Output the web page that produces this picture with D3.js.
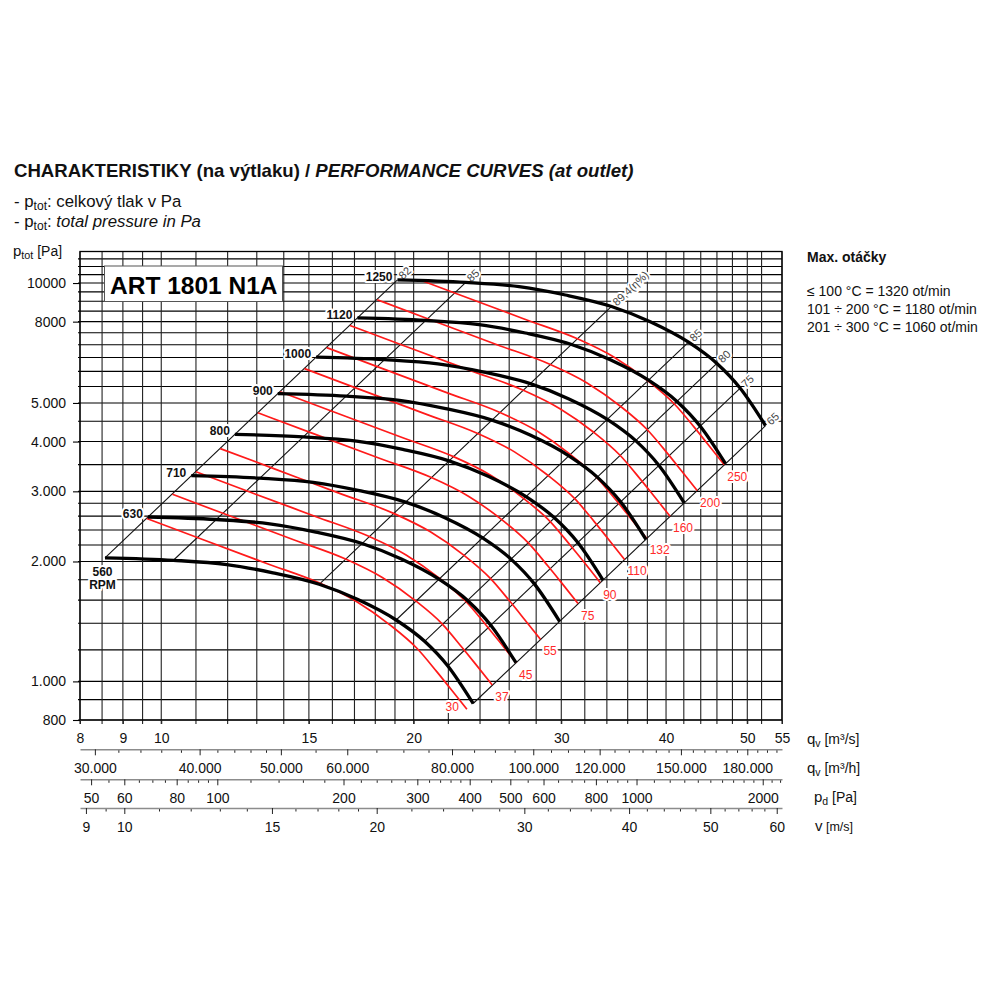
<!DOCTYPE html>
<html>
<head>
<meta charset="utf-8">
<script src="https://cdn.jsdelivr.net/npm/d3@7"></script>
<style>
  body { margin: 0; background: #fff; }
  text { font-family: "Liberation Sans", Arial, Helvetica, sans-serif; white-space: pre; }
</style>
</head>
<body>
<div id="chart"></div>
<script>
// ---------- Data ----------
// fan speed curves (q in m3/s, p_tot in Pa)
var rpm = [560, 630, 710, 800, 900, 1000, 1120, 1250];
var rpmQ = [
  [8.569, 10.34, 11.97, 13.59, 15.43, 17.16, 19.06, 20.61, 21.97, 23.55],
  [9.640, 11.63, 13.47, 15.29, 17.36, 19.31, 21.44, 23.19, 24.72, 26.49],
  [10.86, 13.11, 15.18, 17.23, 19.56, 21.76, 24.17, 26.13, 27.86, 29.86],
  [12.24, 14.77, 17.10, 19.41, 22.04, 24.51, 27.23, 29.44, 31.39, 33.64],
  [13.77, 16.62, 19.24, 21.84, 24.80, 27.58, 30.63, 33.12, 35.31, 37.85],
  [15.30, 18.46, 21.38, 24.27, 27.55, 30.64, 34.04, 36.80, 39.23, 42.05],
  [17.14, 20.68, 23.94, 27.18, 30.86, 34.32, 38.12, 41.22, 43.94, 47.10],
  [19.13, 23.08, 26.72, 30.34, 34.44, 38.30, 42.55, 46.00, 49.04, 52.57]
];
var rpmP = [
  [2043, 2014, 1965, 1873, 1753, 1605, 1426, 1261, 1093, 880],
  [2586, 2549, 2487, 2371, 2219, 2031, 1805, 1596, 1383, 1114],
  [3284, 3237, 3159, 3011, 2818, 2580, 2292, 2027, 1757, 1415],
  [4169, 4110, 4010, 3822, 3578, 3276, 2910, 2574, 2231, 1796],
  [5277, 5202, 5075, 4838, 4528, 4146, 3683, 3257, 2823, 2273],
  [6515, 6422, 6266, 5973, 5590, 5118, 4547, 4021, 3485, 2806],
  [8172, 8056, 7860, 7492, 7012, 6420, 5704, 5044, 4372, 3520],
  [10179, 10035, 9791, 9332, 8734, 7997, 7105, 6283, 5446, 4385]
];

// motor power curves (kW)
var powerKW = [30, 37, 45, 55, 75, 90, 110, 132, 160, 200, 250];
var powerQ = [
  [9.609, 11.12, 13.36, 15.47, 17.11, 18.75, 20.18, 21.31, 22.11, 23.15],
  [10.31, 11.93, 14.33, 16.59, 18.35, 20.11, 21.64, 22.85, 23.71, 24.82],
  [11.00, 12.73, 15.30, 17.71, 19.59, 21.46, 23.09, 24.39, 25.31, 26.50],
  [11.76, 13.62, 16.35, 18.93, 20.94, 22.95, 24.69, 26.08, 27.06, 28.33],
  [13.04, 15.10, 18.14, 21.00, 23.22, 25.45, 27.38, 28.92, 30.01, 31.41],
  [13.86, 16.04, 19.27, 22.31, 24.68, 27.04, 29.10, 30.73, 31.89, 33.38],
  [14.82, 17.15, 20.61, 23.85, 26.38, 28.91, 31.11, 32.86, 34.09, 35.69],
  [15.75, 18.23, 21.90, 25.35, 28.04, 30.72, 33.06, 34.92, 36.23, 37.93],
  [16.79, 19.44, 23.35, 27.03, 29.89, 32.76, 35.25, 37.23, 38.63, 40.44],
  [18.09, 20.94, 25.15, 29.11, 32.20, 35.29, 37.97, 40.11, 41.61, 43.56],
  [20.47, 22.55, 27.09, 31.36, 34.69, 38.01, 40.90, 43.21, 44.82, 46.93]
];
var powerP = [
  [2564, 2284, 1977, 1763, 1585, 1385, 1211, 1058, 961, 851],
  [2949, 2627, 2274, 2028, 1823, 1593, 1393, 1216, 1105, 979],
  [3360, 2993, 2591, 2310, 2077, 1815, 1587, 1386, 1259, 1115],
  [3841, 3421, 2961, 2641, 2374, 2075, 1814, 1584, 1439, 1275],
  [4723, 4207, 3642, 3248, 2920, 2551, 2230, 1948, 1770, 1568],
  [5333, 4751, 4112, 3667, 3297, 2881, 2519, 2200, 1999, 1770],
  [6097, 5431, 4701, 4192, 3769, 3293, 2879, 2515, 2285, 2024],
  [6885, 6133, 5309, 4734, 4256, 3719, 3251, 2840, 2580, 2285],
  [7827, 6972, 6035, 5382, 4838, 4228, 3696, 3229, 2933, 2598],
  [9082, 8090, 7003, 6245, 5614, 4906, 4289, 3747, 3404, 3014],
  [10137, 9388, 8126, 7247, 6515, 5693, 4977, 4348, 3950, 3498]
];

// efficiency lines (from 560 RPM curve up to 1250 RPM curve)
var effLabels = ["82", "85", "89,4(η%)", "85", "80", "75", "65"];
var effLowQ = [8.569, 10.34, 15.43, 19.06, 20.61, 21.97, 23.55];
var effLowP = [2043, 2014, 1753, 1426, 1261, 1093, 880];
var effHighQ = [19.13, 23.08, 34.44, 42.55, 46.00, 49.04, 52.57];
var effHighP = [10179, 10035, 8734, 7105, 6283, 5446, 4385];

// grid and axis ticks
var qGrid = [8, 8.5, 9, 9.5, 10, 11, 12, 13, 14, 15, 16, 17, 18, 19, 20, 22, 24, 26, 28, 30,
             32, 34, 36, 38, 40, 42, 44, 46, 48, 50, 52, 55];
var qTicks = [8, 9, 10, 15, 20, 30, 40, 50, 55];
var pGrid = [800, 900, 1000, 1200, 1400, 1600, 1800, 2000, 2200, 2400, 2600, 2800, 3000, 3500,
             4000, 4500, 5000, 5500, 6000, 6500, 7000, 7500, 8000, 8500, 9000, 9500, 10000,
             10500, 11000, 11500];
var pTicks = [800, 1000, 2000, 3000, 4000, 5000, 8000, 10000];
var pTickLabels = ["800", "1.000", "2.000", "3.000", "4.000", "5.000", "8000", "10000"];

var qhTicks = [30000, 40000, 50000, 60000, 80000, 100000, 120000, 150000, 180000];
var qhMinor = [32000, 34000, 36000, 38000, 42000, 44000, 46000, 48000, 55000, 65000, 70000,
               75000, 85000, 90000, 95000, 105000, 110000, 115000, 125000, 130000, 135000,
               140000, 145000, 155000, 160000, 165000, 170000, 175000, 185000, 190000, 195000];
var pdTicks = [50, 60, 80, 100, 200, 300, 400, 500, 600, 800, 1000, 2000];
var pdMinor = [55, 65, 70, 75, 85, 90, 95, 120, 140, 160, 180, 220, 240, 260, 280, 320, 340,
               360, 380, 450, 550, 650, 700, 750, 850, 900, 950, 1100, 1200, 1300, 1400, 1500,
               1600, 1700, 1800, 1900, 2100, 2200];
var vTicks = [9, 10, 15, 20, 30, 40, 50, 60];
var vMinor = [9.5, 11, 12, 13, 14, 16, 17, 18, 19, 22, 24, 26, 28, 32, 34, 36, 38, 42, 44, 46,
              48, 52, 54, 56, 58];

// outlet constants used by the secondary axes
var airDensity = 1.2;   // kg/m3
var ductArea = 0.9035;  // m2

var FONT = '"Liberation Sans", Arial, Helvetica, sans-serif';

// ---------- SVG ----------
var svg = d3.select("#chart")
    .append("svg")
    .attr("width", 1000)
    .attr("height", 1000);

svg.append("rect").attr("width", 1000).attr("height", 1000).attr("fill", "#fff");

var plot = { left: 80, right: 782, top: 251.5, bottom: 720 };

var x = d3.scaleLog().domain([8, 55]).range([plot.left, plot.right]);
var y = d3.scaleLog().domain([800, 12000]).range([plot.bottom, plot.top]);

// ---------- Titles ----------
var title = svg.append("text")
    .attr("x", 14).attr("y", 177)
    .attr("font-size", 18.6).attr("font-weight", "bold").attr("fill", "#111");
title.append("tspan").text("CHARAKTERISTIKY (na výtlaku) / ");
title.append("tspan").attr("font-style", "italic").text("PERFORMANCE CURVES (at outlet)");

function ptotText(xPos, yPos, size, rest, italic) {
  var t = svg.append("text").attr("x", xPos).attr("y", yPos)
      .attr("font-size", size).attr("fill", "#111");
  t.append("tspan").text(rest === null ? "p" : "- p");
  t.append("tspan").attr("font-size", size * 0.72).attr("dy", 3).text("tot");
  if (rest === null) {
    t.append("tspan").attr("dy", -3).attr("font-size", size * 0.93).text(" [Pa]");
  } else {
    t.append("tspan").attr("dy", -3).text(": ");
    t.append("tspan").attr("font-style", italic ? "italic" : "normal").text(rest);
  }
}
ptotText(14, 206.5, 16.8, "celkový tlak v Pa", false);
ptotText(14, 227, 16.8, "total pressure in Pa", true);
ptotText(13, 256, 15, null, false);

// right legend
svg.append("text").attr("x", 807).attr("y", 262)
    .attr("font-size", 14).attr("font-weight", "bold").attr("fill", "#111")
    .text("Max. otáčky");
var maxLines = ["≤ 100 °C = 1320 ot/min", "101 ÷ 200 °C = 1180 ot/min", "201 ÷ 300 °C = 1060 ot/min"];
svg.selectAll(".maxline")
    .data(maxLines)
    .enter()
    .append("text")
    .attr("x", 807)
    .attr("y", (d, i) => 296 + i * 18)
    .attr("font-size", 14).attr("fill", "#111")
    .text(d => d);

// ---------- Grid ----------
var gridG = svg.append("g");
gridG.selectAll(".hgrid")
    .data(pGrid)
    .enter()
    .append("line")
    .attr("x1", 78).attr("x2", plot.right)
    .attr("y1", d => y(d)).attr("y2", d => y(d))
    .attr("stroke", "#000").attr("stroke-width", 1.1);

gridG.selectAll(".vgrid")
    .data(qGrid)
    .enter()
    .append("line")
    .attr("x1", d => x(d)).attr("x2", d => x(d))
    .attr("y1", plot.top).attr("y2", plot.bottom + 4)
    .attr("stroke", "#222").attr("stroke-width", 1.1);

// frame
svg.append("rect")
    .attr("x", plot.left).attr("y", plot.top)
    .attr("width", plot.right - plot.left).attr("height", plot.bottom - plot.top)
    .attr("fill", "none").attr("stroke", "#000").attr("stroke-width", 1.3);

// y axis (labels)
svg.append("g")
    .attr("transform", `translate(${plot.left}, 0)`)
    .call(d3.axisLeft(y).tickValues(pTicks).tickFormat((d, i) => pTickLabels[i])
        .tickSize(7).tickPadding(7))
    .call(g => g.select(".domain").remove())
    .attr("font-size", 14).attr("font-family", FONT)
    .call(g => g.selectAll("line").attr("stroke", "#000").attr("stroke-width", 1.1))
    .call(g => g.selectAll("text").attr("fill", "#111"));

// product box
svg.append("rect")
    .attr("x", 104.5).attr("y", 266).attr("width", 178).attr("height", 35.5)
    .attr("fill", "#fff").attr("stroke", "#555").attr("stroke-width", 1);
svg.append("text")
    .attr("x", 110).attr("y", 293.5)
    .attr("font-size", 24.5).attr("font-weight", "bold").attr("fill", "#000")
    .text("ART 1801 N1A");

// ---------- Curves ----------
var line = d3.line()
    .x(d => x(d[0]))
    .y(d => y(d[1]))
    .curve(d3.curveMonotoneX);

// efficiency lines
var effG = svg.append("g");
effG.selectAll(".eff")
    .data(effLabels)
    .enter()
    .append("line")
    .attr("x1", (d, i) => x(effLowQ[i])).attr("y1", (d, i) => y(effLowP[i]))
    .attr("x2", (d, i) => x(effHighQ[i])).attr("y2", (d, i) => y(effHighP[i]))
    .attr("stroke", "#111").attr("stroke-width", 1.1);

// motor power curves
svg.append("g").selectAll(".power")
    .data(powerKW)
    .enter()
    .append("path")
    .attr("d", (d, i) => line(d3.zip(powerQ[i], powerP[i])))
    .attr("fill", "none")
    .attr("stroke", "#ff1a1a")
    .attr("stroke-width", 1.7);

// speed curves
svg.append("g").selectAll(".rpm")
    .data(rpm)
    .enter()
    .append("path")
    .attr("d", (d, i) => line(d3.zip(rpmQ[i], rpmP[i])))
    .attr("fill", "none")
    .attr("stroke", "#000")
    .attr("stroke-width", 3.3);

// ---------- Curve labels ----------
function halo(sel) {
  sel.attr("stroke", "#fff").attr("stroke-width", 4).attr("paint-order", "stroke")
     .attr("stroke-linejoin", "round");
}

// efficiency labels along the lines
effG.selectAll(".efflab")
    .data(effLabels)
    .enter()
    .append("text")
    .attr("transform", (d, i) => `translate(${x(effHighQ[i])}, ${y(effHighP[i])}) rotate(-43.5)`)
    .attr("x", 4)
    .attr("dy", "0.35em")
    .attr("font-size", 11)
    .attr("fill", "#444")
    .call(halo)
    .text(d => d);

// rpm labels
var rpmLab = svg.append("g").attr("font-weight", "bold").attr("font-size", 12).attr("fill", "#111");
rpmLab.selectAll(".rpmlab")
    .data(rpm.slice(1))
    .enter()
    .append("text")
    .attr("x", (d, i) => x(rpmQ[i + 1][0]) - 5)
    .attr("y", (d, i) => y(rpmP[i + 1][0]) + 1)
    .attr("text-anchor", "end")
    .call(halo)
    .text(d => d);
rpmLab.append("text")
    .attr("x", x(rpmQ[0][0]) - 2.5).attr("y", y(rpmP[0][0]) + 18)
    .attr("text-anchor", "middle").call(halo).text(rpm[0]);
rpmLab.append("text")
    .attr("x", x(rpmQ[0][0]) - 2.5).attr("y", y(rpmP[0][0]) + 31)
    .attr("text-anchor", "middle").call(halo).text("RPM");

// power labels at curve ends
svg.append("g").selectAll(".powlab")
    .data(powerKW)
    .enter()
    .append("text")
    .attr("x", (d, i) => x(powerQ[i][9]) + (i === 0 ? -8 : 3))
    .attr("y", (d, i) => y(powerP[i][9]) + (i === 0 ? 2 : 16))
    .attr("text-anchor", (d, i) => i === 0 ? "end" : "start")
    .attr("font-size", 12)
    .attr("fill", "#ff2a2a")
    .call(halo)
    .text(d => d);

// ---------- Bottom axes ----------
// qv m3/s on the plot edge
svg.append("g")
    .attr("transform", `translate(0, ${plot.bottom})`)
    .call(d3.axisBottom(x).tickValues(qTicks).tickFormat(d3.format("")).tickSize(4).tickSizeOuter(0))
    .call(g => g.select(".domain").remove())
    .attr("font-size", 14).attr("font-family", FONT)
    .call(g => g.selectAll("line").attr("stroke", "#222"))
    .call(g => g.selectAll("text").attr("y", 23.3).attr("dy", null).attr("fill", "#111"));

var dotLocale = d3.formatLocale({ decimal: ",", thousands: ".", grouping: [3], currency: ["", ""] });

var xh = d3.scaleLog().domain([8 * 3600, 55 * 3600]).range([plot.left, plot.right]);
var xv = d3.scaleLog().domain([8 / ductArea, 55 / ductArea]).range([plot.left, plot.right]);
var xpd = d3.scaleLog()
    .domain([0.5 * airDensity * Math.pow(8 / ductArea, 2), 0.5 * airDensity * Math.pow(55 / ductArea, 2)])
    .range([plot.left, plot.right]);

function scaleAxis(scale, yPos, major, minor, fmt) {
  var g = svg.append("g").attr("transform", `translate(0, ${yPos})`);
  g.append("g")
      .call(d3.axisBottom(scale).tickValues(minor).tickFormat("").tickSize(3.5).tickSizeOuter(0))
      .call(a => a.select(".domain").remove())
      .call(a => a.selectAll("line").attr("stroke", "#222"));
  g.append("g")
      .call(d3.axisBottom(scale).tickValues(major).tickFormat(fmt).tickSize(6).tickSizeOuter(0))
      .attr("font-size", 14).attr("font-family", FONT)
      .call(a => a.select(".domain").attr("stroke", "#8c8c8c").attr("stroke-width", 1.6))
      .call(a => a.selectAll("line").attr("stroke", "#222"))
      .call(a => a.selectAll("text").attr("y", 23.5).attr("dy", null).attr("fill", "#111"));
}
scaleAxis(xh, 749.3, qhTicks, qhMinor, dotLocale.format(","));
scaleAxis(xpd, 779.3, pdTicks, pdMinor, d3.format(""));
scaleAxis(xv, 808, vTicks, vMinor, d3.format(""));

// unit labels
function unitLabel(xPos, yPos, main, sub, unit, unitSize) {
  var t = svg.append("text").attr("x", xPos).attr("y", yPos)
      .attr("font-size", 15).attr("fill", "#111");
  t.append("tspan").text(main);
  if (sub) t.append("tspan").attr("font-size", 10.5).attr("dy", 3).text(sub);
  t.append("tspan").attr("font-size", unitSize).attr("dy", sub ? -3 : 0).text(" " + unit);
}
unitLabel(807, 744, "q", "v", "[m³/s]", 14);
unitLabel(807, 773, "q", "v", "[m³/h]", 14);
unitLabel(814, 802, "p", "d", "[Pa]", 14);
unitLabel(815, 831, "v", null, "[m/s]", 12.5);
</script>
</body>
</html>
